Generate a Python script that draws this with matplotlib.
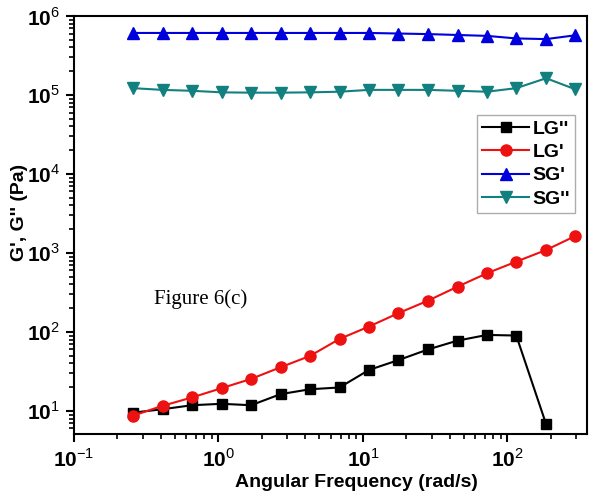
import matplotlib
matplotlib.use("Agg")
import matplotlib.pyplot as plt
import numpy as np
from matplotlib.ticker import FixedLocator, FuncFormatter, LogLocator, NullFormatter

plt.rcParams['font.family'] = ['Liberation Sans', 'DejaVu Sans']
plt.rcParams['mathtext.fontset'] = 'custom'
plt.rcParams['mathtext.rm'] = 'Liberation Sans'
plt.rcParams['mathtext.bf'] = 'Liberation Sans:bold'

freq = [0.256, 0.41, 0.655, 1.05, 1.68, 2.69, 4.3, 6.88, 11.0, 17.6, 28.2, 45.1, 72.1, 115, 185, 295]

lg_loss = [9.5, 10.5, 11.8, 12.3, 11.8, 16.3, 18.8, 19.8, 33, 44, 60, 77.6, 91.6, 90, 6.8]
lg_storage = [8.7, 11.6, 14.8, 19.4, 25.4, 35.7, 49.7, 81.5, 117, 173, 249, 374, 553, 776, 1090, 1640]
sg_storage = [6.1e5, 6.1e5, 6.1e5, 6.1e5, 6.1e5, 6.1e5, 6.1e5, 6.1e5, 6.1e5, 6.0e5, 5.9e5, 5.75e5, 5.6e5, 5.2e5, 5.1e5, 5.7e5]
sg_loss = [1.22e5, 1.16e5, 1.13e5, 1.08e5, 1.07e5, 1.07e5, 1.08e5, 1.10e5, 1.16e5, 1.16e5, 1.16e5, 1.13e5, 1.10e5, 1.22e5, 1.63e5, 1.18e5]

labels = ["LG''", "LG'", "SG'", "SG''"]

fig = plt.figure(figsize=(5.93, 4.93), dpi=100)
ax = fig.add_axes([74/593, 59/493, 513/593, 418/493])

ax.plot(freq[:len(lg_loss)], lg_loss, color='black', marker='s', ms=7, lw=1.5, label=labels[0])
ax.plot(freq, lg_storage, color='#ee1111', marker='o', ms=8, lw=1.5, label=labels[1])
ax.plot(freq, sg_storage, color='#0000dd', marker='^', ms=8, lw=1.5, label=labels[2])
ax.plot(freq, sg_loss, color='#138080', marker='v', ms=8, lw=1.5, label=labels[3])

ax.set_xscale('log')
ax.set_yscale('log')
ax.set_xlim(0.1, 355)
ax.set_ylim(5.1, 1e6)

fmt = FuncFormatter(lambda v, p: r'$\mathbf{10}^{\mathrm{%d}}$' % int(round(np.log10(v))))
ax.xaxis.set_major_locator(FixedLocator([0.1, 1, 10, 100]))
ax.yaxis.set_major_locator(FixedLocator([10, 100, 1e3, 1e4, 1e5, 1e6]))
ax.xaxis.set_major_formatter(fmt)
ax.yaxis.set_major_formatter(fmt)
ax.xaxis.set_minor_locator(LogLocator(base=10, subs=np.arange(2, 10), numticks=20))
ax.yaxis.set_minor_locator(LogLocator(base=10, subs=np.arange(2, 10), numticks=20))
ax.xaxis.set_minor_formatter(NullFormatter())
ax.yaxis.set_minor_formatter(NullFormatter())

ax.tick_params(which='major', direction='out', length=6, width=1.5, labelsize=15, pad=4)
ax.tick_params(which='minor', direction='out', length=3.5, width=1.2)
ax.tick_params(top=False, right=False)
for s in ax.spines.values():
    s.set_linewidth(1.5)

ax.set_xlabel('Angular Frequency (rad/s)', fontsize=14, fontweight='bold')
ax.set_ylabel("G', G'' (Pa)", fontsize=14, fontweight='bold')
ax.xaxis.set_label_coords(0.55, -0.095)
ax.yaxis.set_label_coords(-0.09, 0.53)

ax.text(0.155, 0.31, 'Figure 6(c)', transform=ax.transAxes, fontsize=15,
        family='Liberation Serif')

leg = ax.legend(loc='upper right', bbox_to_anchor=(0.977, 0.763),
                prop={'weight': 'bold', 'size': 14}, frameon=True, fancybox=False,
                edgecolor='#999999', handlelength=2.4, handletextpad=0.2,
                labelspacing=0.3, borderpad=0.25, borderaxespad=0.0)
leg.get_frame().set_linewidth(1.0)

fig.savefig('out.png', dpi=100)
